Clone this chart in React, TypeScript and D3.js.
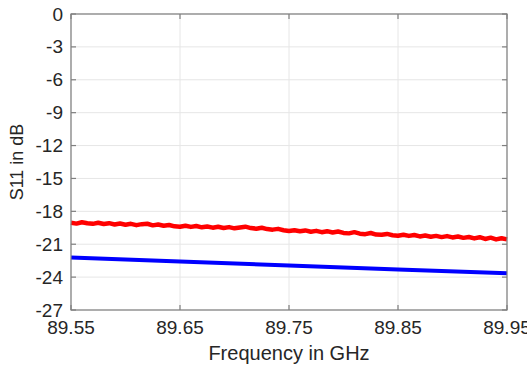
import React from "react";
import * as d3 from "d3";

const xTicks = [89.55, 89.65, 89.75, 89.85, 89.95];
const yTicks = [0, -3, -6, -9, -12, -15, -18, -21, -24, -27];

const blueFreq = [89.55, 89.65, 89.75, 89.85, 89.95];
const blueS11 = [-22.2, -22.58, -22.95, -23.3, -23.65];

const redS11 = [
  -19.05, -19.12, -19.0, -19.09, -19.14, -19.04, -19.16, -19.08, -19.2, -19.11,
  -19.22, -19.14, -19.26, -19.17, -19.13, -19.28, -19.2, -19.32, -19.25, -19.37,
  -19.4, -19.31, -19.42, -19.34, -19.46, -19.39, -19.49, -19.41, -19.52, -19.44,
  -19.55, -19.47, -19.4, -19.53, -19.58, -19.5, -19.62, -19.67, -19.6, -19.72,
  -19.8, -19.72, -19.82, -19.74, -19.86, -19.78, -19.9, -19.81, -19.93, -19.84,
  -19.97, -20.01, -19.9, -20.04, -20.08, -19.98, -20.12, -20.14, -20.06, -20.18,
  -20.22, -20.13, -20.24, -20.16, -20.29, -20.21, -20.32, -20.24, -20.35, -20.26,
  -20.38, -20.3, -20.42, -20.34, -20.47, -20.36, -20.52, -20.4, -20.56, -20.45,
  -20.56,
];
const redFreq = redS11.map((_, i) => 89.55 + i * 0.005);

const W = 527;
const H = 368;
const L = 71, R = 507, T = 14, B = 310;

export default function App() {
  const x = d3.scaleLinear().domain([89.55, 89.95]).range([L, R]);
  const y = d3.scaleLinear().domain([-27, 0]).range([B, T]);
  const line = d3
    .line<[number, number]>()
    .x((d) => x(d[0]))
    .y((d) => y(d[1]));
  const redPts: [number, number][] = redFreq.map((f, i) => [f, redS11[i]]);
  const bluePts: [number, number][] = blueFreq.map((f, i) => [f, blueS11[i]]);
  const font = "'Liberation Sans', Arial, Helvetica, sans-serif";
  const txt = "#262626";
  const axisC = "#7f7f7f";
  const tl = 5;
  return (
    <svg
      width={W}
      height={H}
      style={{ position: "absolute", left: 0, top: 0, background: "#fff" }}
    >
      <rect x={0} y={0} width={W} height={H} fill="#fff" />
      {xTicks.map((t) => (
        <line key={"gx" + t} x1={x(t)} x2={x(t)} y1={T} y2={B} stroke="#e6e6e6" strokeWidth={1} />
      ))}
      {yTicks.map((t) => (
        <line key={"gy" + t} x1={L} x2={R} y1={y(t)} y2={y(t)} stroke="#e6e6e6" strokeWidth={1} />
      ))}
      <path d={line(bluePts) || ""} fill="none" stroke="#0000ff" strokeWidth={4} strokeLinejoin="round" />
      <path d={line(redPts) || ""} fill="none" stroke="#ff0000" strokeWidth={4.5} strokeLinejoin="round" />
      <rect x={L} y={T} width={R - L} height={B - T} fill="none" stroke={axisC} strokeWidth={1.2} />
      {xTicks.map((t) => (
        <g key={"tx" + t}>
          <line x1={x(t)} x2={x(t)} y1={B} y2={B - tl} stroke={axisC} strokeWidth={1.2} />
          <line x1={x(t)} x2={x(t)} y1={T} y2={T + tl} stroke={axisC} strokeWidth={1.2} />
          <text x={x(t)} y={B + 24} textAnchor="middle" fontFamily={font} fontSize={19} fill={txt}>
            {t.toFixed(2)}
          </text>
        </g>
      ))}
      {yTicks.map((t) => (
        <g key={"ty" + t}>
          <line x1={L} x2={L + tl} y1={y(t)} y2={y(t)} stroke={axisC} strokeWidth={1.2} />
          <line x1={R} x2={R - tl} y1={y(t)} y2={y(t)} stroke={axisC} strokeWidth={1.2} />
          <text x={L - 8} y={y(t) + 6.5} textAnchor="end" fontFamily={font} fontSize={19} fill={txt}>
            {t}
          </text>
        </g>
      ))}
      <text x={(L + R) / 2} y={360} textAnchor="middle" fontFamily={font} fontSize={20} fill={txt}>
        Frequency in GHz
      </text>
      <text
        transform={`translate(23, ${(T + B) / 2}) rotate(-90)`}
        textAnchor="middle"
        fontFamily={font}
        fontSize={18}
        fill={txt}
      >
        S11 in dB
      </text>
    </svg>
  );
}
